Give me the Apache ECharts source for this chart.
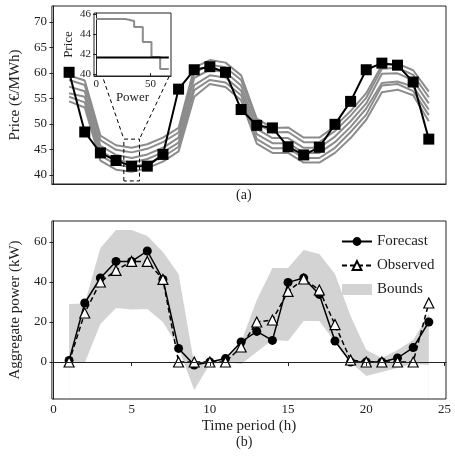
<!DOCTYPE html><html><head><meta charset="utf-8">
<script src="https://cdn.jsdelivr.net/npm/echarts@6/dist/echarts.min.js"></script>
<style>body{margin:0}#c{width:455px;height:456px}</style></head><body><div id="c"></div>
<script>
const hours=[1,2,3,4,5,6,7,8,9,10,11,12,13,14,15,16,17,18,19,20,21,22,23,24];
const price=[60.1,48.4,44.3,42.8,41.7,41.7,44.0,56.8,60.6,61.2,60.1,52.8,49.7,49.2,45.5,43.9,45.4,49.9,54.4,60.6,61.9,61.5,58.2,47.0];
const bidCurves=[
[59.5,58.5,47.7,45.8,45.3,46.0,47.3,49.2,61.0,62.5,62.0,59.5,51.0,49.2,49.3,47.3,47.3,49.5,52.5,56.0,61.5,61.8,60.5,56.3],
[58.6,57.6,46.8,44.9,44.4,45.1,46.4,48.3,60.0,61.6,61.1,58.6,50.1,48.3,48.4,46.4,46.4,48.6,51.6,55.1,60.8,61.0,59.6,55.2],
[57.3,56.4,45.7,43.9,43.3,44.0,45.3,47.3,59.0,60.6,60.1,57.5,49.0,47.2,47.2,45.3,45.3,47.5,50.5,54.0,59.8,59.9,58.5,54.0],
[56.0,55.3,44.7,42.9,42.4,43.1,44.4,46.3,57.6,59.5,59.1,56.5,48.0,46.2,46.2,44.3,44.3,46.4,49.4,53.0,58.0,58.3,57.3,52.8],
[55.3,54.2,43.8,42.0,41.5,42.2,43.5,45.5,56.6,58.6,58.1,55.6,47.0,45.2,45.2,43.3,43.3,45.3,48.4,51.8,57.5,57.8,56.4,51.7],
[54.4,53.2,42.8,41.0,40.6,41.3,42.6,44.6,55.3,57.8,57.2,54.6,46.1,44.3,44.3,42.4,42.4,44.3,47.2,50.8,56.2,56.7,55.6,50.5]];
const insetPower=[0,27,35,43,51,59,67];
const insetPrice=[45.5,45.3,44.7,43.2,41.7,40.5,40.5];
const insetClear=41.65;
const forecast=[0.8,29.5,42,50.3,50.3,55.5,41.3,6.8,-1.5,0,1.7,10,15.3,10.8,39.8,42,33.8,10.5,0,0,0,2,7.2,20];
const observed=[0,24.5,40,45.8,50.3,50.3,41.3,0,0,0,0,7.5,20,21,35.3,41.5,36,18.7,1,0,0,0,0,29.5];
const upper=[29,29.3,57,66,66,63,55,44,-1,0,1,10,31,47,47,56,54,44,23,6,2,6,11,24];
const lower=[0.5,-0.5,19,27,26.3,26.5,20,7,-14,-1,0,-1,5,11,10.5,20.5,20.5,10,0,-7,-5,-3,-1,-1.5];
const xTicks=[0,5,10,15,20,25];
const priceTicks=[40,45,50,55,60,65,70];
const powerTicks=[0,20,40,60];

const F='Liberation Serif',C='#222';
const pair=(a)=>hours.map((h,i)=>[h,a[i]]);
const ax=(o)=>Object.assign({type:'value',axisLine:{show:true,lineStyle:{color:C}},splitLine:{show:false},
  axisLabel:{color:C,fontFamily:F,fontSize:13},nameTextStyle:{color:C,fontFamily:F,fontSize:15}},o);
const series=[];
bidCurves.forEach(c=>series.push({type:'line',xAxisIndex:0,yAxisIndex:0,data:pair(c),symbol:'none',
  lineStyle:{color:'#8c8c8c',width:2},z:2,silent:true}));
series.push({type:'line',xAxisIndex:0,yAxisIndex:0,data:pair(price),symbol:'rect',symbolSize:11,
  itemStyle:{color:'#000'},lineStyle:{color:'#000',width:2},z:4});
series.push({type:'line',xAxisIndex:0,yAxisIndex:0,data:[[4.5,38.8],[4.5,47],[5.5,47],[5.5,38.8],[4.5,38.8]],symbol:'none',
  lineStyle:{color:'#000',width:1,type:[4,3]},z:5});
series.push({type:'line',xAxisIndex:0,yAxisIndex:0,data:[[3.2,58.7],[4.5,47]],symbol:'none',lineStyle:{color:'#000',width:1,type:[4,3]},z:5});
series.push({type:'line',xAxisIndex:0,yAxisIndex:0,data:[[7.4,59.3],[5.5,47]],symbol:'none',lineStyle:{color:'#000',width:1,type:[4,3]},z:5});
series.push({type:'line',xAxisIndex:1,yAxisIndex:1,data:insetPower.map((p,i)=>[p,insetPrice[i]]),step:'end',symbol:'none',
  lineStyle:{color:'#8c8c8c',width:2},z:12});
series.push({type:'line',xAxisIndex:1,yAxisIndex:1,data:[[0,insetClear],[67,insetClear]],symbol:'none',
  lineStyle:{color:'#000',width:2},z:13});
series.push({name:'Bounds',type:'line',xAxisIndex:2,yAxisIndex:2,data:pair(upper),
  symbol:'none',lineStyle:{opacity:0},areaStyle:{color:'#d3d3d3',opacity:1,origin:'start'},itemStyle:{color:'#d3d3d3'},z:1,zlevel:0,silent:true});
series.push({type:'line',xAxisIndex:2,yAxisIndex:2,data:pair(lower),symbol:'none',lineStyle:{opacity:0},
  areaStyle:{color:'#fff',opacity:1,origin:'start'},z:1.5,silent:true});
series.push({name:'Forecast',type:'line',xAxisIndex:2,yAxisIndex:2,data:pair(forecast),symbol:'circle',symbolSize:9,
  itemStyle:{color:'#000'},lineStyle:{color:'#000',width:1.5},z:4});
series.push({name:'Observed',type:'line',xAxisIndex:2,yAxisIndex:2,data:pair(observed),symbol:'triangle',symbolSize:10,
  itemStyle:{color:'#fff',borderColor:'#000',borderWidth:1.2},lineStyle:{color:'#000',width:1.5,type:[5,3]},z:5});

const opt={animation:false,backgroundColor:'#fff',
 title:[{text:'(a)',top:188,left:236,padding:0,textStyle:{fontFamily:F,fontSize:14,fontWeight:'normal',color:C}},
        {text:'(b)',top:435,left:236,padding:0,textStyle:{fontFamily:F,fontSize:14,fontWeight:'normal',color:C}}],
 grid:[{left:44,right:9,top:6,height:178,show:true,borderColor:C,borderWidth:1},
       {left:94,top:13,width:77,height:63,show:true,backgroundColor:'#fff',borderColor:C,borderWidth:1,z:10},
       {left:44,right:9,top:221,height:178,show:true,borderColor:C,borderWidth:1,z:3}],
 xAxis:[ax({gridIndex:0,min:-0.1,max:25.1,axisLabel:{show:false},axisTick:{show:false}}),
        ax({gridIndex:1,min:-2,max:69,z:11,name:'Power',nameLocation:'middle',nameGap:12,nameTextStyle:{color:C,fontFamily:F,fontSize:13},
            axisLabel:{color:C,fontFamily:F,fontSize:11,margin:3,customValues:[0,50]},axisTick:{customValues:[0,50],inside:true,length:3}}),
        ax({gridIndex:2,min:-0.1,max:25.1,z:6,name:'Time period (h)',nameLocation:'middle',nameGap:20,
            axisLabel:{color:C,fontFamily:F,fontSize:13,customValues:xTicks,margin:4},axisTick:{customValues:xTicks,length:4}})],
 yAxis:[ax({gridIndex:0,min:38.2,max:73.1,name:'Price (€/MWh)',nameLocation:'middle',nameGap:28,
            axisLabel:{color:C,fontFamily:F,fontSize:13,customValues:priceTicks,margin:5},axisTick:{customValues:priceTicks,length:4}}),
        ax({gridIndex:1,min:39.8,max:46.1,z:11,name:'Price',nameLocation:'middle',nameGap:19,nameTextStyle:{color:C,fontFamily:F,fontSize:13},
            axisLabel:{color:C,fontFamily:F,fontSize:11,margin:3,customValues:[40,42,44,46]},axisTick:{customValues:[40,42,44,46],length:3}}),
        ax({gridIndex:2,min:-18.5,max:70.5,z:6,name:'Aggregate power (kW)',nameLocation:'middle',nameGap:26,
            axisLabel:{color:C,fontFamily:F,fontSize:13,customValues:powerTicks,margin:5},axisTick:{customValues:powerTicks,length:4}})],
 legend:{data:['Forecast','Observed',{name:'Bounds',icon:'rect'}],orient:'vertical',left:336,top:229,itemWidth:30,itemHeight:11,itemGap:9,
   textStyle:{fontFamily:F,fontSize:15,color:C}},
 series};
echarts.init(document.getElementById('c')).setOption(opt);
</script></body></html>
